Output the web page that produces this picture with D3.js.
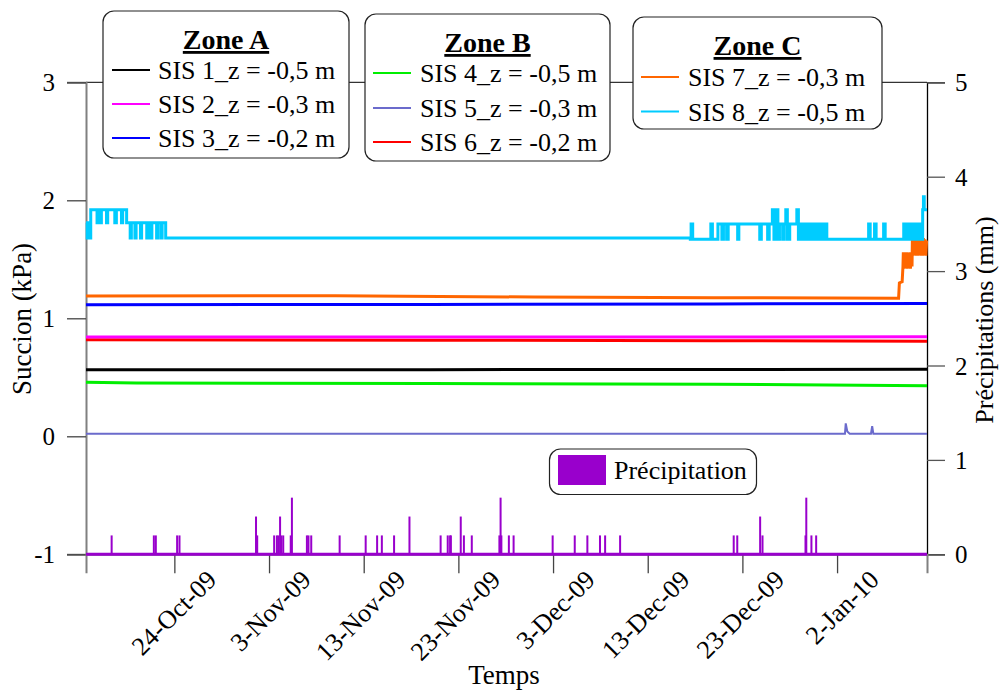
<!DOCTYPE html>
<html><head><meta charset="utf-8">
<script src="https://cdn.jsdelivr.net/npm/d3@7"></script>
<style>
html,body{margin:0;padding:0;background:#fff;}
svg text{font-family:"Liberation Serif","Times New Roman",serif;fill:#000;}
</style></head>
<body><svg id="chart" width="999" height="690"></svg>
<script>
// ---------- DATA ----------
const xTickDates = ["2009-10-24","2009-11-03","2009-11-13","2009-11-23","2009-12-03","2009-12-13","2009-12-23","2010-01-02"];
const leftTicks = [-1, 0, 1, 2, 3];
const rightTicks = [0, 1, 2, 3, 4, 5];
const timeDomain = ["2009-10-14 16:00", "2010-01-11 12:00"];

const sis1 = [["2009-10-14 16:00",0.565],["2009-11-20 00:00",0.565],["2009-12-20 00:00",0.566],["2010-01-11 12:00",0.568]];
const sis2 = [["2009-10-14 16:00",0.842],["2009-11-20 00:00",0.841],["2009-12-20 00:00",0.842],["2010-01-11 12:00",0.843]];
const sis3 = [["2009-10-14 16:00",1.115],["2009-11-20 00:00",1.118],["2009-12-20 00:00",1.122],["2010-01-11 12:00",1.125]];
const sis4 = [["2009-10-14 16:00",0.458],["2009-10-20 00:00",0.452],["2009-11-20 00:00",0.447],["2009-12-20 00:00",0.442],["2010-01-11 12:00",0.428]];
const sis5 = [["2009-10-14 16:00",0.022],["2010-01-02 20:00",0.022],["2010-01-02 22:00",0.11],["2010-01-03 02:00",0.04],["2010-01-03 08:00",0.022],
  ["2010-01-05 14:00",0.022],["2010-01-05 17:00",0.085],["2010-01-05 20:00",0.022],["2010-01-11 12:00",0.022]];
const sis6 = [["2009-10-14 16:00",0.818],["2009-11-20 00:00",0.815],["2009-12-20 00:00",0.81],["2010-01-11 12:00",0.806]];
const sis7 = [["2009-10-14 16:00",1.19],["2009-11-10 00:00",1.192],["2009-12-01 00:00",1.18],["2009-12-20 00:00",1.175],["2010-01-08 12:00",1.17],
  ["2010-01-08 14:00",1.30],["2010-01-08 21:00",1.31],["2010-01-08 23:00",1.435],
  ["2010-01-09 00:00",1.56],["2010-01-09 02:00",1.42],["2010-01-09 04:00",1.56],["2010-01-09 06:00",1.43],["2010-01-09 08:00",1.56],["2010-01-09 10:00",1.42],
  ["2010-01-09 12:00",1.55],["2010-01-09 14:00",1.43],["2010-01-09 16:00",1.56],["2010-01-09 18:00",1.42],["2010-01-09 20:00",1.56],["2010-01-09 22:00",1.44],
  ["2010-01-09 23:00",1.68],["2010-01-10 01:00",1.53],["2010-01-10 03:00",1.68],["2010-01-10 05:00",1.54],["2010-01-10 07:00",1.67],["2010-01-10 09:00",1.53],
  ["2010-01-10 11:00",1.68],["2010-01-10 13:00",1.53],["2010-01-10 15:00",1.68],["2010-01-10 17:00",1.54],["2010-01-10 19:00",1.67],["2010-01-10 21:00",1.53],
  ["2010-01-10 23:00",1.68],["2010-01-11 01:00",1.53],["2010-01-11 03:00",1.68],["2010-01-11 05:00",1.54],["2010-01-11 07:00",1.67],["2010-01-11 09:00",1.53],
  ["2010-01-11 11:00",1.66]];
const sis8 = [["2009-10-14 16:00",1.81],["2009-10-14 19:00",1.68],["2009-10-14 22:00",1.81],["2009-10-15 01:00",1.68],["2009-10-15 04:00",1.92],
  ["2009-10-15 20:00",1.81],["2009-10-15 23:00",1.92],["2009-10-16 04:00",1.81],["2009-10-16 07:00",1.92],["2009-10-16 20:00",1.81],["2009-10-16 23:00",1.92],
  ["2009-10-17 17:00",1.81],["2009-10-17 21:00",1.92],["2009-10-18 10:00",1.81],["2009-10-18 13:00",1.92],["2009-10-18 23:00",1.81],
  ["2009-10-19 08:00",1.68],["2009-10-19 11:00",1.81],["2009-10-19 20:00",1.68],["2009-10-19 23:00",1.81],["2009-10-20 10:00",1.68],["2009-10-20 13:00",1.81],
  ["2009-10-21 02:00",1.68],["2009-10-21 05:00",1.81],["2009-10-21 12:00",1.68],["2009-10-21 15:00",1.81],["2009-10-22 03:00",1.68],["2009-10-22 06:00",1.81],
  ["2009-10-22 14:00",1.68],["2009-10-22 17:00",1.81],["2009-10-23 02:00",1.68],["2009-11-15 00:00",1.68],["2009-12-17 12:00",1.67],
  ["2009-12-17 14:00",1.80],["2009-12-17 18:00",1.67],["2009-12-19 16:00",1.80],["2009-12-19 20:00",1.67],["2009-12-20 10:00",1.80],
  ["2009-12-20 20:00",1.67],["2009-12-21 00:00",1.80],["2009-12-21 08:00",1.67],["2009-12-21 12:00",1.80],["2009-12-22 12:00",1.67],["2009-12-22 15:00",1.80],
  ["2009-12-24 20:00",1.67],["2009-12-25 00:00",1.80],["2009-12-25 16:00",1.67],["2009-12-25 20:00",1.80],
  ["2009-12-26 04:00",1.92],["2009-12-26 08:00",1.67],["2009-12-26 12:00",1.80],["2009-12-26 14:00",1.92],["2009-12-26 18:00",1.67],["2009-12-26 22:00",1.80],
  ["2009-12-27 06:00",1.67],["2009-12-27 10:00",1.80],["2009-12-27 14:00",1.92],["2009-12-27 18:00",1.67],["2009-12-28 00:00",1.80],
  ["2009-12-28 18:00",1.92],["2009-12-28 22:00",1.67],["2009-12-29 04:00",1.80],["2009-12-29 10:00",1.67],["2009-12-29 16:00",1.80],["2009-12-29 22:00",1.67],
  ["2009-12-30 04:00",1.80],["2009-12-30 10:00",1.67],["2009-12-30 16:00",1.80],["2009-12-30 22:00",1.67],["2009-12-31 04:00",1.80],["2009-12-31 10:00",1.67],
  ["2009-12-31 16:00",1.80],["2009-12-31 22:00",1.67],
  ["2010-01-05 08:00",1.80],["2010-01-05 12:00",1.67],["2010-01-05 23:00",1.80],["2010-01-06 03:00",1.67],["2010-01-06 22:00",1.80],["2010-01-07 02:00",1.67],
  ["2010-01-09 01:00",1.80],["2010-01-09 05:00",1.67],["2010-01-09 09:00",1.80],["2010-01-09 13:00",1.67],["2010-01-09 17:00",1.80],["2010-01-09 21:00",1.67],
  ["2010-01-10 01:00",1.80],["2010-01-10 05:00",1.67],["2010-01-10 09:00",1.80],["2010-01-10 13:00",1.67],["2010-01-10 17:00",1.80],["2010-01-10 21:00",1.67],
  ["2010-01-11 01:00",1.92],["2010-01-11 03:00",2.03],["2010-01-11 05:00",1.92],["2010-01-11 12:00",1.92]];

const precipDates = ["2009-10-17 09:00","2009-10-21 20:00","2009-10-22 01:00","2009-10-24 07:00","2009-10-24 13:00","2009-11-01 15:00","2009-11-01 18:00",
  "2009-11-03 13:00","2009-11-03 20:00","2009-11-04 00:00","2009-11-04 04:00","2009-11-04 07:00","2009-11-04 12:00","2009-11-05 07:00","2009-11-05 10:00",
  "2009-11-07 00:00","2009-11-07 04:00","2009-11-07 11:00","2009-11-10 11:00","2009-11-13 05:00","2009-11-14 10:00","2009-11-14 22:00","2009-11-16 05:00",
  "2009-11-17 20:00","2009-11-21 03:00","2009-11-21 21:00","2009-11-22 03:00","2009-11-22 05:00","2009-11-23 06:00","2009-11-23 14:00","2009-11-24 10:00",
  "2009-11-27 08:00","2009-11-27 11:00","2009-11-27 13:00","2009-11-28 08:00","2009-11-28 20:00","2009-12-02 23:00","2009-12-05 07:00","2009-12-06 15:00",
  "2009-12-07 23:00","2009-12-08 12:00","2009-12-10 02:00","2009-12-22 02:00","2009-12-22 11:00","2009-12-24 21:00","2009-12-25 03:00","2009-12-29 16:00",
  "2009-12-29 18:00","2009-12-30 07:00","2009-12-30 19:00"];
const precipValues = [0.2,0.2,0.2,0.2,0.2,0.4,0.2,
  0.2,0.2,0.2,0.4,0.2,0.2,0.2,0.6,
  0.2,0.2,0.2,0.2,0.2,0.2,0.2,0.2,
  0.4,0.2,0.2,0.2,0.2,0.4,0.2,0.2,
  0.2,0.6,0.2,0.2,0.2,0.2,0.2,0.2,
  0.2,0.2,0.2,0.2,0.2,0.4,0.2,0.2,
  0.6,0.2,0.2];

const seriesNames = ["SIS 1_z = -0,5 m","SIS 2_z = -0,3 m","SIS 3_z = -0,2 m","SIS 4_z = -0,5 m","SIS 5_z = -0,3 m","SIS 6_z = -0,2 m","SIS 7_z = -0,3 m","SIS 8_z = -0,5 m"];
const seriesColors = ["#000000","#FF00FF","#0000FF","#00EE00","#6B6BCC","#FF0000","#FF6600","#00CCFF"];
const zoneTitles = ["Zone A","Zone B","Zone C"];

// ---------- CHART ----------
const parse = d3.timeParse("%Y-%m-%d %H:%M");
const parseDay = d3.timeParse("%Y-%m-%d");
const svg = d3.select("#chart");
const L = 86, R = 927, T = 82.3, B = 554.3;
const FONT = "Liberation Serif";

const x = d3.scaleTime().domain(timeDomain.map(parse)).range([L, R]);
const yL = d3.scaleLinear().domain([-1, 3]).range([B, T]);
const yR = d3.scaleLinear().domain([0, 5]).range([B, T]);

// frame top line
svg.append("line").attr("x1", L).attr("x2", R).attr("y1", T).attr("y2", T).attr("stroke", "#000").attr("stroke-width", 1);

// Left axis
const gL = svg.append("g").attr("transform", `translate(${L},0)`)
  .call(d3.axisLeft(yL).tickValues(leftTicks).tickSize(19).tickPadding(12).tickFormat(d => String(d)));
gL.select(".domain").attr("stroke", "#808080").attr("stroke-width", 2);
gL.selectAll(".tick line").attr("stroke", "#444").attr("stroke-width", 1.3);
gL.selectAll(".tick text").style("font-family", FONT).style("font-size", "25px").attr("dy", "0.34em");

// Right axis
const gR = svg.append("g").attr("transform", `translate(${R},0)`)
  .call(d3.axisRight(yR).tickValues(rightTicks).tickSize(18).tickPadding(10).tickFormat(d => String(d)));
gR.select(".domain").attr("stroke", "#000").attr("stroke-width", 1.3);
gR.selectAll(".tick line").attr("stroke", "#555").attr("stroke-width", 1.3);
gR.selectAll(".tick text").style("font-family", FONT).style("font-size", "25px").attr("dy", "0.34em");

// X axis
const fmt = d3.timeFormat("%-d-%b-%y");
const gX = svg.append("g").attr("transform", `translate(0,${B})`)
  .call(d3.axisBottom(x).tickValues(xTickDates.map(parseDay)).tickSize(19).tickFormat(fmt));
gX.select(".domain").attr("stroke", "#808080").attr("stroke-width", 2);
gX.selectAll(".tick line").attr("stroke", "#444").attr("stroke-width", 1.3);
gX.selectAll(".tick text").style("font-family", FONT).style("font-size", "26px")
  .attr("text-anchor", "end").attr("y", 0).attr("dy", 0)
  .attr("transform", "translate(43,27) rotate(-45)");

// Precipitation
const precip = precipDates.map((d, i) => ({ t: parse(d), v: precipValues[i] }));
svg.append("line").attr("x1", L).attr("x2", R).attr("y1", yR(0)).attr("y2", yR(0))
  .attr("stroke", "#9900CC").attr("stroke-width", 3);
svg.append("g").selectAll("rect").data(precip).join("rect")
  .attr("x", d => x(d.t) - 1).attr("width", 2)
  .attr("y", d => yR(d.v)).attr("height", d => yR(0) - yR(d.v))
  .attr("fill", "#9900CC");

// Series lines
const all = [sis1, sis2, sis3, sis4, sis5, sis6, sis7, sis8];
const drawOrder = [4, 3, 0, 5, 1, 2, 6, 7];
drawOrder.forEach(i => {
  const pts = all[i].map(d => ({ t: parse(d[0]), v: d[1] }));
  const line = d3.line().x(d => x(d.t)).y(d => yL(d.v)).curve(i === 7 ? d3.curveStepAfter : d3.curveLinear);
  svg.append("path").datum(pts).attr("d", line).attr("fill", "none")
    .attr("stroke", seriesColors[i]).attr("stroke-width", i === 4 ? 2 : 3).attr("stroke-linejoin", "miter");
});

// Axis titles
svg.append("text").attr("transform", `translate(31,319) rotate(-90)`).attr("text-anchor", "middle")
  .style("font-family", FONT).style("font-size", "27px").text("Succion (kPa)");
svg.append("text").attr("transform", `translate(993,320) rotate(-90)`).attr("text-anchor", "middle")
  .style("font-family", FONT).style("font-size", "26px").text("Précipitations (mm)");
svg.append("text").attr("x", 504).attr("y", 684).attr("text-anchor", "middle")
  .style("font-family", FONT).style("font-size", "27px").text("Temps");

// Legends
const boxes = [
  { x: 103, y: 11, w: 246, h: 147, title: 0, ty: 49, items: [0, 1, 2], rows: [70, 104, 138], lx: 112, tx: 158 },
  { x: 365, y: 14, w: 245, h: 147, title: 1, ty: 52, items: [3, 4, 5], rows: [73, 108, 142], lx: 373, tx: 420 },
  { x: 633, y: 17, w: 249, h: 112, title: 2, ty: 55, items: [6, 7], rows: [77, 111.5], lx: 641, tx: 688 }
];
boxes.forEach(b => {
  const g = svg.append("g");
  g.append("rect").attr("x", b.x).attr("y", b.y).attr("width", b.w).attr("height", b.h)
    .attr("rx", 11).attr("fill", "#fff").attr("stroke", "#222").attr("stroke-width", 1.2);
  g.append("text").attr("x", b.x + b.w / 2).attr("y", b.ty).attr("text-anchor", "middle")
    .style("font-family", FONT).style("font-size", "28px").style("font-weight", "bold").style("text-decoration", "underline")
    .text(zoneTitles[b.title]);
  b.items.forEach((s, k) => {
    g.append("line").attr("x1", b.lx).attr("x2", b.lx + 38).attr("y1", b.rows[k]).attr("y2", b.rows[k])
      .attr("stroke", seriesColors[s]).attr("stroke-width", 2);
    g.append("text").attr("x", b.tx).attr("y", b.rows[k]).attr("dy", "0.35em")
      .style("font-family", FONT).style("font-size", "26px").text(seriesNames[s]);
  });
});

// Precipitation legend
const pg = svg.append("g");
pg.append("rect").attr("x", 549.5).attr("y", 449).attr("width", 207).attr("height", 45.5)
  .attr("rx", 11).attr("fill", "#fff").attr("stroke", "#222").attr("stroke-width", 1.2);
pg.append("rect").attr("x", 558).attr("y", 455).attr("width", 48).attr("height", 30).attr("fill", "#9900CC");
pg.append("text").attr("x", 614).attr("y", 470).attr("dy", "0.35em")
  .style("font-family", FONT).style("font-size", "26px").text("Précipitation");
</script>
</body></html>
